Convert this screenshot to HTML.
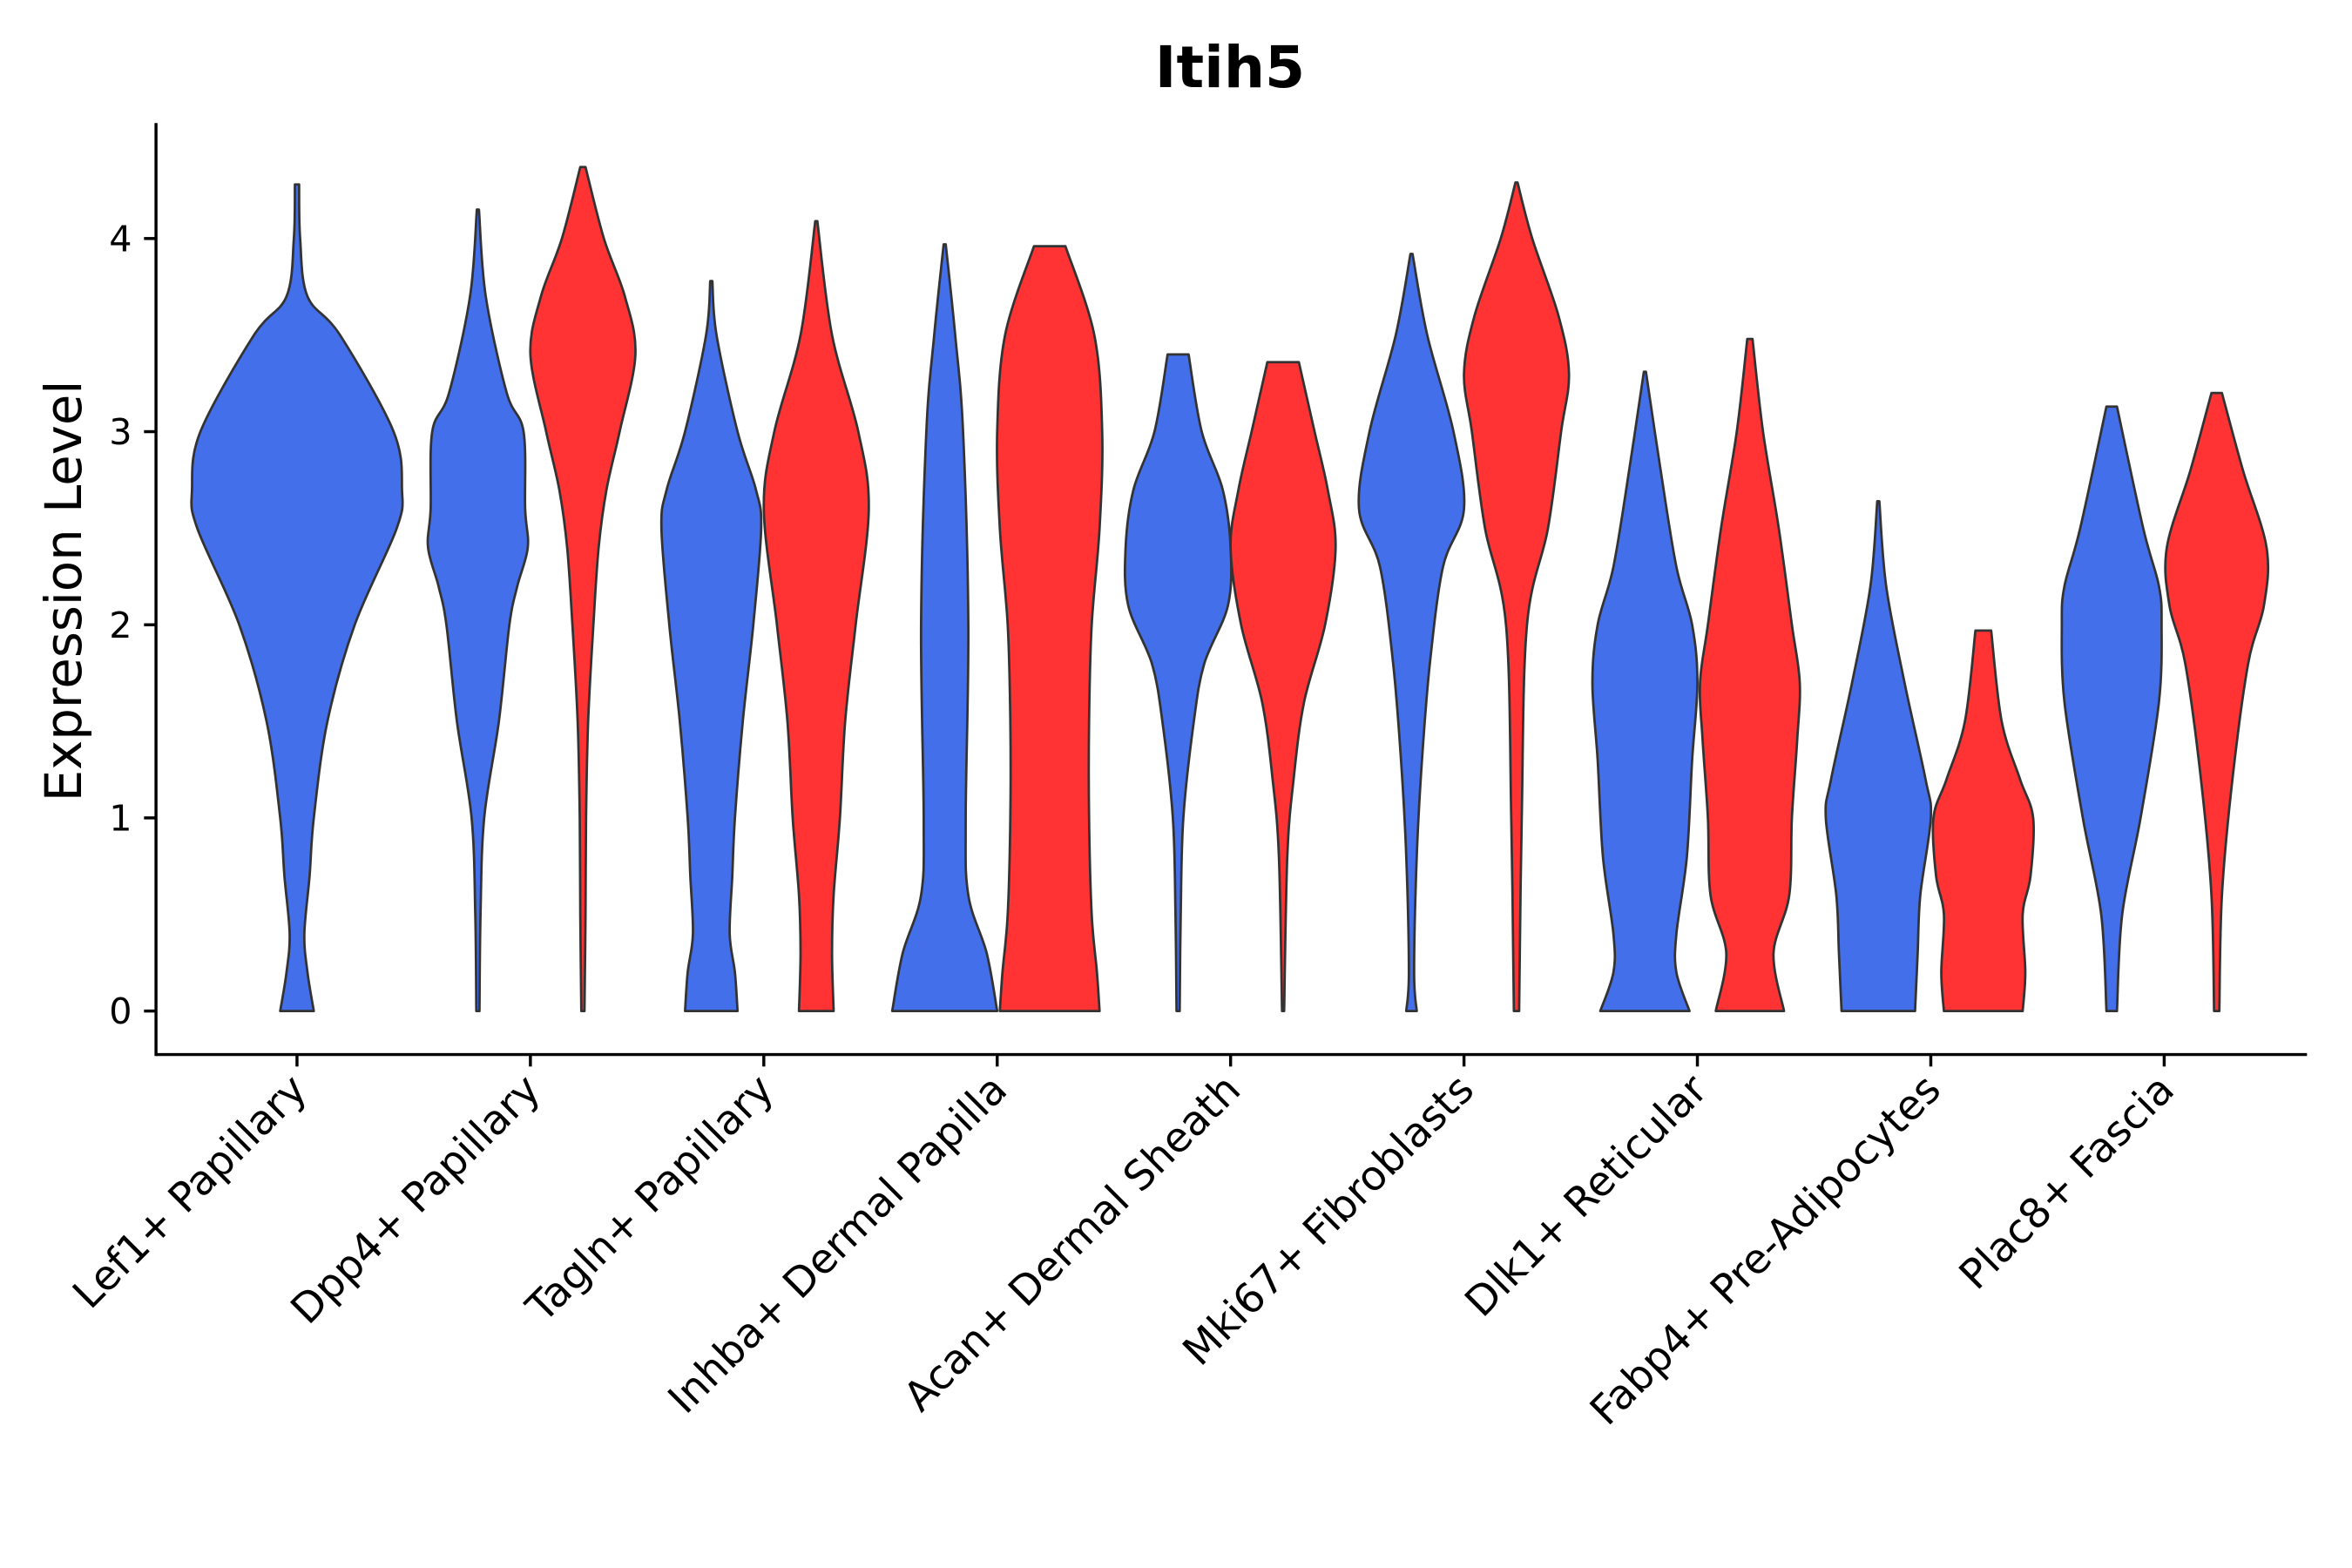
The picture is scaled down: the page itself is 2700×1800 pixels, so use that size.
<!DOCTYPE html>
<html><head><meta charset="utf-8"><style>
html,body{margin:0;padding:0;background:#fff;}
svg{display:block;font-family:"DejaVu Sans","Liberation Sans",sans-serif;}
</style></head><body>
<svg id="chart" width="2700" height="1800" viewBox="0 0 1568 1045.3" xmlns="http://www.w3.org/2000/svg">
<rect width="1570" height="1050" fill="#fff"/>
<text x="820" y="58" text-anchor="middle" font-size="38.5" font-weight="bold">Itih5</text>
<text transform="translate(54,394) rotate(-90)" text-anchor="middle" font-size="33.5">Expression Level</text>
<g id="plot"></g>
</svg>
<script>
const categories = ["Lef1+ Papillary","Dpp4+ Papillary","Tagln+ Papillary","Inhba+ Dermal Papilla","Acan+ Dermal Sheath","Mki67+ Fibroblasts","Dlk1+ Reticular","Fabp4+ Pre-Adipocytes","Plac8+ Fascia"];
const yTicks = [0,1,2,3,4];
// violin profiles: [category index, group ("blue"/"red"/"single"), y levels, relative widths]
const violinCat = [0,1,1,2,2,3,3,4,4,5,5,6,6,7,7,8,8];
const violinGroup = ["single","blue","red","blue","red","blue","red","blue","red","blue","red","blue","red","blue","red","blue","red"];
const violinY = [
 [0,0.2,0.4,0.7,1.0,1.5,2.0,2.5,2.7,3.0,3.5,3.7,4.0,4.28],
 [0,0.5,1.0,1.5,2.0,2.2,2.4,2.6,3.0,3.2,3.7,4.15],
 [0,0.5,1.0,1.5,2.0,2.4,2.7,3.0,3.4,3.7,4.0,4.37],
 [0,0.2,0.4,0.7,1.0,1.5,2.0,2.5,2.7,3.0,3.5,3.78],
 [0,0.3,0.6,1.0,1.5,2.0,2.6,3.0,3.5,4.09],
 [0,0.3,0.6,1.0,2.0,3.0,3.5,3.97],
 [0,0.2,0.5,1.0,1.5,2.0,2.5,3.0,3.5,3.96],
 [0,0.5,1.0,1.5,1.8,2.1,2.4,2.7,3.0,3.4],
 [0,0.8,1.2,1.6,2.0,2.4,2.7,3.0,3.36],
 [0,0.2,0.8,1.3,1.8,2.3,2.6,3.0,3.5,3.92],
 [0,1.0,2.0,2.5,3.0,3.3,3.6,4.0,4.29],
 [0,0.2,0.4,0.8,1.3,1.7,2.0,2.3,2.8,3.31],
 [0,0.3,0.6,1.0,1.4,1.7,2.0,2.5,3.0,3.48],
 [0,0.3,0.6,1.0,1.2,1.7,2.2,2.64],
 [0,0.2,0.5,0.7,1.0,1.2,1.5,1.97],
 [0,0.5,1.0,1.6,2.0,2.2,2.5,3.13],
 [0,0.6,1.2,1.8,2.1,2.4,2.8,3.2]
];
const violinW = [
 [0.16,0.1,0.07,0.12,0.16,0.29,0.55,0.95,1.0,0.92,0.41,0.1,0.03,0.02],
 [0.03,0.05,0.12,0.4,0.6,0.75,0.95,0.9,0.87,0.55,0.15,0.02],
 [0.03,0.05,0.06,0.1,0.2,0.3,0.45,0.7,1.0,0.8,0.4,0.05],
 [0.5,0.45,0.35,0.4,0.45,0.6,0.8,0.95,0.85,0.5,0.1,0.02],
 [0.33,0.3,0.33,0.45,0.55,0.75,1.0,0.8,0.3,0.02],
 [1.0,0.8,0.45,0.4,0.45,0.35,0.2,0.02],
 [0.95,0.9,0.8,0.75,0.75,0.8,0.95,1.0,0.85,0.3],
 [0.03,0.05,0.1,0.3,0.5,0.95,1.0,0.85,0.45,0.2],
 [0.02,0.08,0.2,0.4,0.8,1.0,0.85,0.6,0.3],
 [0.1,0.05,0.1,0.2,0.35,0.6,1.0,0.8,0.3,0.02],
 [0.05,0.1,0.2,0.6,0.85,1.0,0.8,0.3,0.02],
 [0.85,0.6,0.6,0.8,0.9,1.0,0.9,0.6,0.3,0.02],
 [0.65,0.45,0.75,0.8,0.9,0.95,0.8,0.55,0.25,0.05],
 [0.7,0.75,0.8,1.0,0.9,0.5,0.15,0.02],
 [0.75,0.8,0.75,0.9,0.95,0.7,0.35,0.15],
 [0.1,0.2,0.55,0.9,0.95,0.9,0.6,0.1],
 [0.05,0.1,0.3,0.6,0.9,0.95,0.5,0.1]
];
const NS="http://www.w3.org/2000/svg";
const X0=198, XSTEP=155.6, Y0=674, YUNIT=128.75;
const xScale = i => X0 + i*XSTEP;
const yScale = v => Y0 - v*YUNIT;
const plot=document.getElementById('plot');
function mk(tag,attrs){const e=document.createElementNS(NS,tag);for(const k in attrs)e.setAttribute(k,attrs[k]);return e;}
const ax=mk('line',{x1:104,y1:703,x2:1538,y2:703,stroke:'#000','stroke-width':2});


plot.appendChild(ax);
const ay=mk('line',{x1:104,y1:82,x2:104,y2:704,stroke:'#000','stroke-width':2});


plot.appendChild(ay);
yTicks.forEach(t=>{
 const y=yScale(t);
 const l=mk('line',{x1:96,y1:y,x2:104,y2:y,stroke:'#000','stroke-width':2});
 
 
 plot.appendChild(l);
 const tx=mk('text',{x:88,y:y+8.5,'text-anchor':'end','font-size':24});
 tx.textContent=t;
 
 
 plot.appendChild(tx);
});
categories.forEach((c,i)=>{
 const x=xScale(i);
 const l=mk('line',{x1:x,y1:703,x2:x,y2:711,stroke:'#000','stroke-width':2});
 
 
 plot.appendChild(l);
 const tx=mk('text',{transform:`translate(${x+8},${728}) rotate(-45)`,'text-anchor':'end','font-size':27.3});
 tx.textContent=c;
 
 
 plot.appendChild(tx);
});
function smooth(pts){
 let d='';
 for(let i=0;i<pts.length-1;i++){
  const p0=pts[Math.max(0,i-1)],p1=pts[i],p2=pts[i+1],p3=pts[Math.min(pts.length-1,i+2)];
  const c1=[p1[0]+(p2[0]-p0[0])/6,p1[1]+(p2[1]-p0[1])/6];
  const c2=[p2[0]-(p3[0]-p1[0])/6,p2[1]-(p3[1]-p1[1])/6];
  d+=` C${c1[0].toFixed(2)},${c1[1].toFixed(2)} ${c2[0].toFixed(2)},${c2[1].toFixed(2)} ${p2[0].toFixed(2)},${p2[1].toFixed(2)}`;
 }
 return d;
}
violinY.forEach((ys,k)=>{
 const g=violinGroup[k];
 const cx=xScale(violinCat[k])+(g==='blue'?-35:g==='red'?35:0);
 const hw=g==='single'?70:35;
 const ws=violinW[k];
 const right=ys.map((y,j)=>[cx+ws[j]*hw,yScale(y)]);
 const left=ys.map((y,j)=>[cx-ws[j]*hw,yScale(y)]).reverse();
 let d=`M${left[left.length-1][0]},${left[left.length-1][1]} L${right[0][0]},${right[0][1]}`+smooth(right)+` L${left[0][0]},${left[0][1]}`+smooth(left)+' Z';
 const p=mk('path',{d:d,fill:g==='red'?'#FF3333':'#446FEB',stroke:'#333','stroke-width':1.6,'stroke-linejoin':'round'});
 
 
 plot.appendChild(p);
});
</script>
</body></html>
